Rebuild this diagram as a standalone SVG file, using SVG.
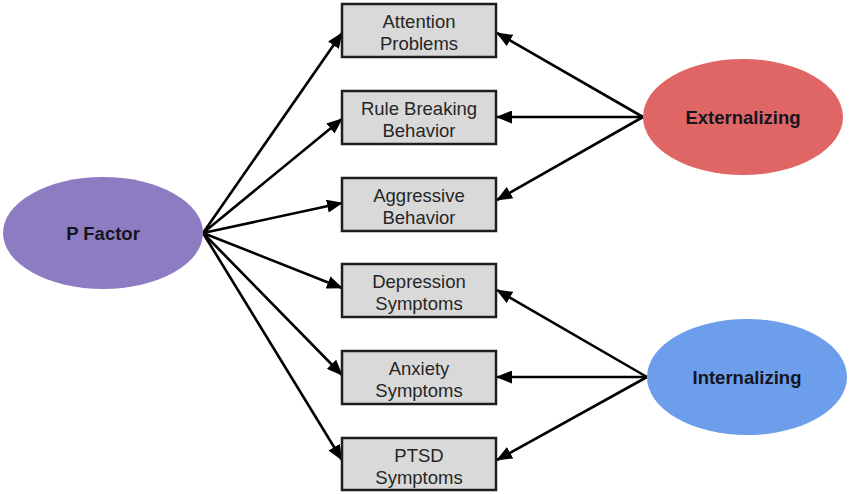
<svg xmlns="http://www.w3.org/2000/svg" width="850" height="494" viewBox="0 0 850 494">
<defs>
<style>
.box{fill:#d9d9d9;stroke:#1e1e1e;stroke-width:2.5}
.lbl{font-family:"Liberation Sans",Arial,sans-serif;font-size:18.5px;fill:#262626;text-anchor:middle}
.big{font-family:"Liberation Sans",Arial,sans-serif;font-size:18.5px;font-weight:bold;fill:#15151f;text-anchor:middle}
.edge{stroke:#000;stroke-width:2.6;fill:none;marker-end:url(#arr)}
</style>
<marker id="arr" markerUnits="userSpaceOnUse" markerWidth="16" markerHeight="13" refX="15" refY="6.5" orient="auto" viewBox="0 0 16 13">
<path d="M0,0 L16,6.5 L0,13 z" fill="#000"/>
</marker>
</defs>
<rect width="850" height="494" fill="#fff"/>
<g id="connectors">
<line class="edge" x1="203" y1="233" x2="342" y2="33"/>
<line class="edge" x1="203" y1="233" x2="342" y2="119"/>
<line class="edge" x1="203" y1="233" x2="342" y2="203"/>
<line class="edge" x1="203" y1="233" x2="342" y2="288"/>
<line class="edge" x1="203" y1="233" x2="342" y2="375"/>
<line class="edge" x1="203" y1="233" x2="342" y2="460"/>
<line class="edge" x1="643" y1="117" x2="497" y2="33"/>
<line class="edge" x1="643" y1="117" x2="497" y2="117"/>
<line class="edge" x1="643" y1="117" x2="497" y2="200"/>
<line class="edge" x1="647" y1="377" x2="497" y2="290"/>
<line class="edge" x1="647" y1="377" x2="497" y2="377"/>
<line class="edge" x1="647" y1="377" x2="497" y2="460"/>
</g>
<g id="pfactor">
<ellipse cx="103" cy="233" rx="100" ry="56" fill="#8e7cc3"/>
<text class="big" x="103" y="240">P Factor</text>
</g>
<g id="externalizing">
<ellipse cx="743" cy="117" rx="100" ry="58" fill="#e06666"/>
<text class="big" x="743" y="124">Externalizing</text>
</g>
<g id="internalizing">
<ellipse cx="747" cy="377" rx="100" ry="58" fill="#6d9eeb"/>
<text class="big" x="747" y="384">Internalizing</text>
</g>
<g id="attention">
<rect class="box" x="342" y="4" width="154" height="53"/>
<text class="lbl" x="419" y="28">Attention</text>
<text class="lbl" x="419" y="50">Problems</text>
</g>
<g id="rulebreaking">
<rect class="box" x="342" y="91" width="154" height="53"/>
<text class="lbl" x="419" y="115">Rule Breaking</text>
<text class="lbl" x="419" y="137">Behavior</text>
</g>
<g id="aggressive">
<rect class="box" x="342" y="178" width="154" height="53"/>
<text class="lbl" x="419" y="202">Aggressive</text>
<text class="lbl" x="419" y="224">Behavior</text>
</g>
<g id="depression">
<rect class="box" x="342" y="264" width="154" height="53"/>
<text class="lbl" x="419" y="288">Depression</text>
<text class="lbl" x="419" y="310">Symptoms</text>
</g>
<g id="anxiety">
<rect class="box" x="342" y="351" width="154" height="53"/>
<text class="lbl" x="419" y="375">Anxiety</text>
<text class="lbl" x="419" y="397">Symptoms</text>
</g>
<g id="ptsd">
<rect class="box" x="342" y="438" width="154" height="52"/>
<text class="lbl" x="419" y="462">PTSD</text>
<text class="lbl" x="419" y="484">Symptoms</text>
</g>
</svg>
